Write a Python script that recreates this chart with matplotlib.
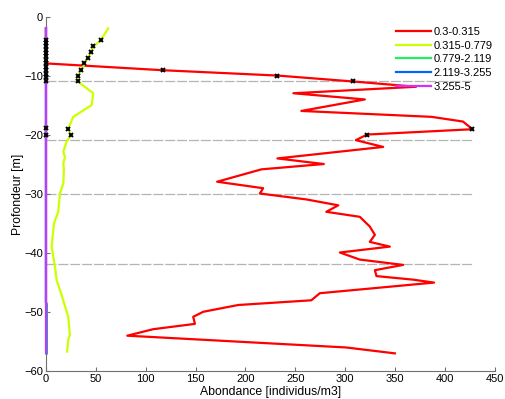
"""Profil vertical d'abondance par classe de taille (recreation)."""

import matplotlib

matplotlib.use("Agg")
import matplotlib.pyplot as plt

plt.rcParams["font.family"] = ["Liberation Sans", "DejaVu Sans"]

# classes de taille (legende)
classes = ["0.3-0.315", "0.315-0.779", "0.779-2.119", "2.119-3.255", "3.255-5"]
colors = ["#FF0000", "#CCFF00", "#22EE66", "#0066FF", "#CC33FF"]

# 0.3-0.315
red_depth = [-1.9, -2.9, -3.9, -4.9, -5.9, -6.9, -7.85, -9.0, -9.9, -10.9,
             -11.8, -12.9, -13.95, -15.9, -16.9, -17.7, -19.0, -19.9, -20.85,
             -22.0, -23.95, -24.9, -25.8, -27.9, -29.0, -29.9, -30.9, -31.9,
             -33.0, -33.85, -35.5, -36.9, -38.1, -38.9, -39.9, -41.1, -42.0,
             -42.9, -43.9, -44.5, -45.0, -46.8, -48.0, -48.8, -49.95, -50.8,
             -52.0, -52.9, -54.0, -56.0, -57.0]
red_abund = [0, 0, 0, 0, 0, 0, 1, 117.5, 232, 307.6,
             371, 248, 319.6, 256, 386.5, 418, 427.5, 322, 310.6,
             338, 232, 278.5, 216, 171.6, 217.7, 214.4, 261, 293,
             281, 314.6, 324.6, 329.7, 324.6, 344.7, 294.6, 314.6, 358,
             329.7, 331.3, 368, 389, 274.5, 266, 192.7, 157.6, 147.6,
             149.3, 107.5, 81.5, 301, 349.7]

# 0.315-0.779
yel_depth = [-1.9, -3.9, -4.9, -5.9, -6.9, -7.85, -9.0, -9.9, -10.85, -12.9,
             -14.9, -16.9, -18.9, -20.0, -21.1, -22.8, -23.7, -24.8, -25.9,
             -28.2, -29.9, -33.0, -35.0, -38.9, -42.3, -44.6, -47.1, -50.8,
             -53.9, -54.7, -56.7]
yel_abund = [62.4, 55, 48, 45.5, 42, 38.7, 35.4, 32, 31.5, 47.4,
             45.8, 27.4, 22.3, 25, 20.7, 17.4, 19, 17.4, 18,
             17.4, 14, 12.3, 8, 5.7, 9, 10.7, 15.7, 22.3,
             24, 22.3, 21.3]

# 0.779-2.119, 2.119-3.255, 3.255-5 (quasi nuls)
green_depth = [-1.9, -48.4, -48.6, -57.0]
green_abund = [0, 0, 0.9, 0.9]
blue_depth = [-1.9, -48.4, -48.6, -57.0]
blue_abund = [0, 0, 0.4, 0.4]
mag_depth = [-1.9, -57.0]
mag_abund = [0, 0]

# echantillons marques (x)
mark_x = ([0] * 15
          + [55, 47.4, 45, 41.7, 38.4, 35, 31.7, 31.7, 22.3, 25]
          + [117.5, 232, 307.6, 427.5, 322])
mark_y = ([-3.8, -4.35, -4.9, -5.5, -6.05, -6.6, -7.2, -7.85, -8.4, -9.0,
           -9.65, -10.2, -10.9, -18.8, -20.0]
          + [-3.9, -4.9, -5.9, -6.9, -7.85, -9.0, -9.9, -10.85, -18.9, -20.0]
          + [-9.0, -9.9, -10.9, -19.0, -19.9])

# limites de couches (lignes grises)
layer_depths = [-10.85, -20.85, -30.0, -41.9]
layer_xmax = 427.5

series = [(red_abund, red_depth), (yel_abund, yel_depth),
          (green_abund, green_depth), (blue_abund, blue_depth),
          (mag_abund, mag_depth)]

fig = plt.figure(figsize=(5.05, 3.99), dpi=100)
ax = fig.add_axes([0.091, 0.070, 0.889, 0.887])

for d in layer_depths:
    ax.plot([0, layer_xmax], [d, d], color="#B4B4B4", lw=0.9,
            dashes=(8, 1.5), zorder=1)

for (x, y), c, lab in zip(series, colors, classes):
    ax.plot(x, y, color=c, lw=1.6, label=lab, zorder=4, clip_on=False)

ax.plot(mark_x, mark_y, ls="none", marker="x", color="black",
        ms=3.5, mew=1.4, zorder=5, clip_on=False)

ax.set_xlim(0, 450)
ax.set_ylim(-60, 0)
ax.set_xticks(range(0, 451, 50))
ax.set_yticks(range(-60, 1, 10))
ax.tick_params(direction="in", labelsize=8, length=3, color="#707070",
               width=0.8, pad=2)
for side in ("top", "right"):
    ax.spines[side].set_visible(False)
for side in ("left", "bottom"):
    ax.spines[side].set_color("#707070")
    ax.spines[side].set_linewidth(0.8)
    ax.spines[side].set_zorder(2)

ax.set_xlabel("Abondance [individus/m3]", fontsize=8.8, labelpad=1.5)
ax.set_ylabel("Profondeur [m]", fontsize=8.8, labelpad=0)

ax.legend(loc="upper left", bbox_to_anchor=(0.77, 0.985), frameon=False,
          fontsize=8, handlelength=3.1, handletextpad=0.25,
          labelspacing=0.33, borderaxespad=0)

fig.savefig("out.png", dpi=100)
